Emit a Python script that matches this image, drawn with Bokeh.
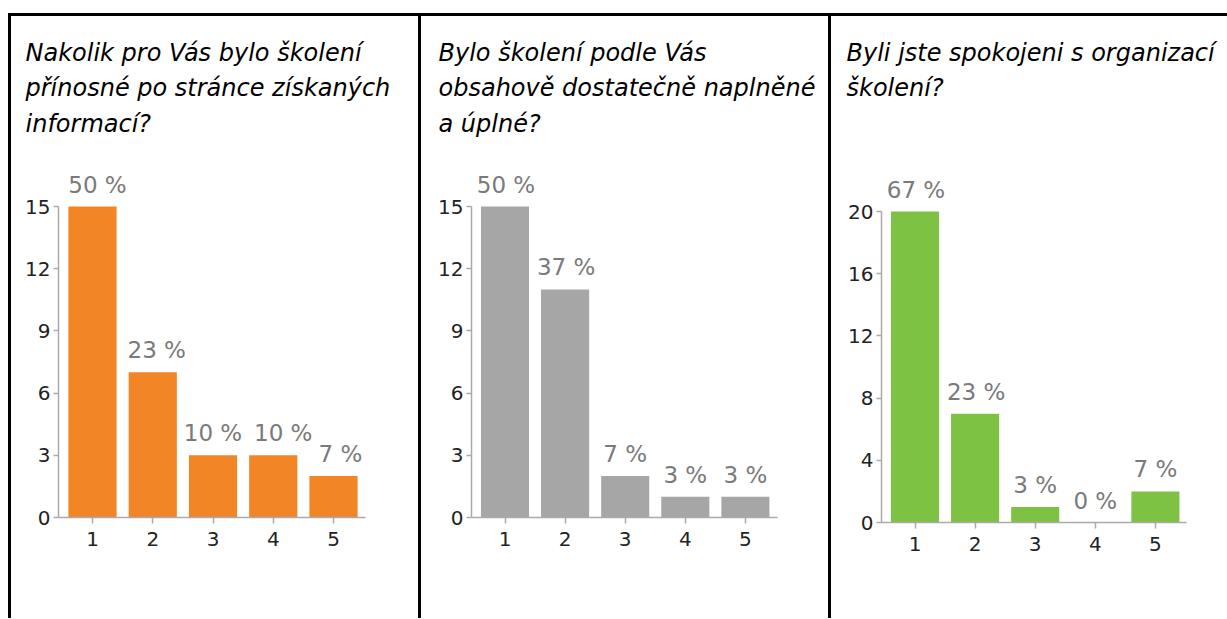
from bokeh.plotting import figure
from bokeh.models import FixedTicker, Range1d, ColumnDataSource, Spacer
from bokeh.layouts import row, column
from bokeh.embed import file_html
from bokeh.resources import INLINE
from bokeh.core.properties import value

# ---------------- data ----------------
categories = [1, 2, 3, 4, 5]
counts_1 = [15, 7, 3, 3, 2]
counts_2 = [15, 11, 2, 1, 1]
counts_3 = [20, 7, 1, 0, 2]
labels_1 = ["50 %", "23 %", "10 %", "10 %", "7 %"]
labels_2 = ["50 %", "37 %", "7 %", "3 %", "3 %"]
labels_3 = ["67 %", "23 %", "3 %", "0 %", "7 %"]
yticks_1 = [0, 3, 6, 9, 12, 15]
yticks_2 = [0, 3, 6, 9, 12, 15]
yticks_3 = [0, 4, 8, 12, 16, 20]
titles_1 = ["Nakolik pro Vás bylo školení", "přínosné po stránce získaných", "informací?"]
titles_2 = ["Bylo školení podle Vás", "obsahově dostatečně naplněné", "a úplné?"]
titles_3 = ["Byli jste spokojeni s organizací", "školení?"]

# ---------------- style / layout ----------------
COLORS = ["#F28526", "#A6A6A6", "#7DC243"]
LABEL_SHIFT_1 = [5, 4, 0, 10, 7]   # horizontal nudges of the value labels (px)
LABEL_SHIFT_2 = [1, 1, 0, 0, 0]
LABEL_SHIFT_3 = [1, 1, 0, 0, 0]
FONT = "DejaVu Sans"
PANEL_H = 602
TITLE_H = 140
CHART_H = PANEL_H - TITLE_H
TOP = 16  # page y where the panels start


def no_align(f):
    if "frame_align" in f.properties():
        f.frame_align = False
    return f


def title_fig(width, lines, tx):
    t = figure(width=width, height=TITLE_H, output_backend="svg", toolbar_location=None,
               x_range=Range1d(0, width), y_range=Range1d(TITLE_H, 0),
               min_border=0, x_axis_location=None, y_axis_location=None,
               border_fill_color="white", background_fill_color="white")
    no_align(t)
    t.outline_line_color = None
    t.xgrid.visible = False
    t.ygrid.visible = False
    ys = [36 + 35.5 * i for i in range(len(lines))]
    t.text(x=[tx] * len(lines), y=ys, text=lines, text_baseline="alphabetic",
           text_font=value(FONT), text_font_style="italic", text_font_size="24px",
           text_color="#000000")
    return t


def chart_fig(width, ax_left, ax_right, zero_page_y, top_page_y, ytop, c1, step,
              counts, labels, shifts, color, yticks):
    zero_y = zero_page_y - TOP - TITLE_H
    top_y = top_page_y - TOP - TITLE_H
    ppu = (zero_y - top_y) / ytop
    y_end = zero_y / ppu
    x_start = 1 - (c1 - ax_left) / step
    x_end = 1 + (ax_right - c1) / step
    p = figure(width=width, height=CHART_H, output_backend="svg", toolbar_location=None,
               x_range=Range1d(x_start, x_end), y_range=Range1d(0, y_end),
               min_border_left=ax_left, min_border_right=width - ax_right,
               min_border_top=0, min_border_bottom=CHART_H - zero_y,
               background_fill_color="white", border_fill_color="white")
    no_align(p)
    p.outline_line_color = None
    p.xgrid.visible = False
    p.ygrid.visible = False

    src = ColumnDataSource(dict(x=categories, top=counts, lab=labels, dx=shifts))
    p.vbar(x="x", top="top", bottom=0, width=0.8, source=src,
           fill_color=color, line_color=None)
    p.text(x="x", y="top", text="lab", source=src, text_align="center",
           text_baseline="bottom", y_offset=-9, x_offset="dx",
           text_font=value(FONT), text_font_size="23px", text_color="#7a7a7a")

    for ax in (p.xaxis[0], p.yaxis[0]):
        ax.axis_line_color = "#aaaaaa"
        ax.axis_line_width = 1.5
        ax.major_tick_line_color = "#aaaaaa"
        ax.major_tick_line_width = 1.5
        ax.major_tick_in = 0
        ax.minor_tick_line_color = None
        ax.major_label_text_color = "#222222"
        ax.major_label_text_font = FONT
        ax.major_label_text_font_size = "20px"
    p.yaxis.ticker = FixedTicker(ticks=yticks)
    p.yaxis.bounds = (0, ytop)
    p.yaxis.major_tick_out = 5
    p.yaxis.major_label_standoff = 3
    p.xaxis.ticker = FixedTicker(ticks=categories)
    p.xaxis.major_tick_out = 6
    p.xaxis.major_label_standoff = 8
    return p


p1 = chart_fig(407, 47, 354, 517, 206, 15, 81, 60.25, counts_1, labels_1, LABEL_SHIFT_1, COLORS[0], yticks_1)
p2 = chart_fig(407, 50, 356, 517, 206, 15, 83.5, 60.1, counts_2, labels_2, LABEL_SHIFT_2, COLORS[1], yticks_2)
p3 = chart_fig(388, 50, 355, 522, 211, 20, 83.5, 60.1, counts_3, labels_3, LABEL_SHIFT_3, COLORS[2], yticks_3)
t1 = title_fig(407, titles_1, 14)
t2 = title_fig(407, titles_2, 17)
t3 = title_fig(388, titles_3, 15)


def vline():
    return Spacer(width=3, height=PANEL_H, styles={"background-color": "#000000"})


layout = column(
    Spacer(width=1227, height=13),
    row(Spacer(width=8, height=3),
        Spacer(width=1219, height=3, styles={"background-color": "#000000"})),
    row(Spacer(width=8, height=PANEL_H),
        vline(), column(t1, p1), vline(), column(t2, p2), vline(), column(t3, p3)),
)

open("out.html", "w").write(file_html(layout, INLINE))
